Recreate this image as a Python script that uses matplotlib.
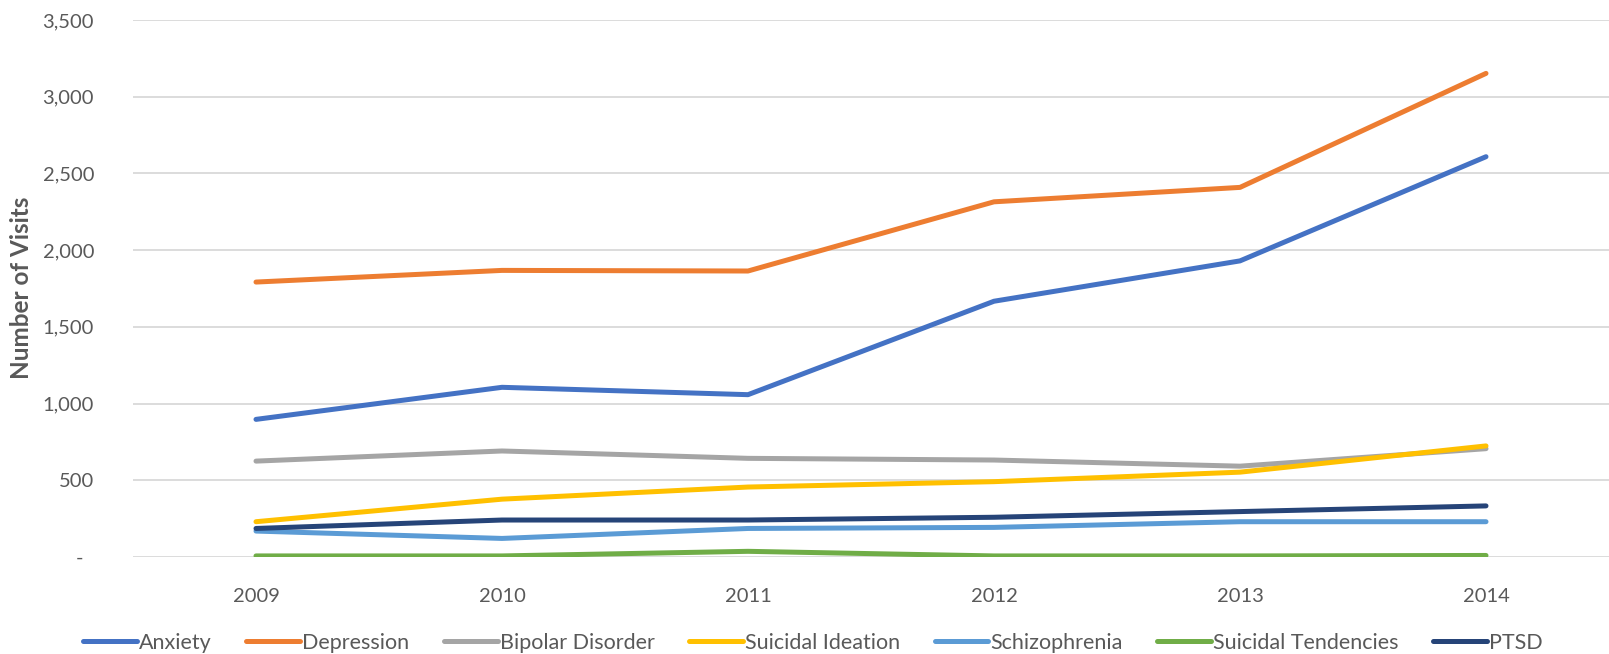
import matplotlib
matplotlib.use('Agg')
import matplotlib.pyplot as plt
from matplotlib.ticker import FuncFormatter

years = ['2009', '2010', '2011', '2012', '2013', '2014']
anxiety = [897, 1106, 1058, 1667, 1930, 2609]
depression = [1792, 1868, 1864, 2315, 2409, 3152]
bipolar = [625, 691, 643, 632, 592, 706]
suicidal_ideation = [230, 377, 456, 491, 553, 724]
schizophrenia = [169, 121, 186, 193, 230, 230]
suicidal_tendencies = [7, 7, 37, 7, 7, 10]
ptsd = [186, 241, 241, 259, 296, 333]

series = [
    ('Anxiety', anxiety, '#4472C4'),
    ('Depression', depression, '#ED7D31'),
    ('Bipolar Disorder', bipolar, '#A5A5A5'),
    ('Suicidal Ideation', suicidal_ideation, '#FFC000'),
    ('Schizophrenia', schizophrenia, '#5B9BD5'),
    ('Suicidal Tendencies', suicidal_tendencies, '#70AD47'),
    ('PTSD', ptsd, '#264478'),
]

plt.rcParams['font.family'] = ['Lato', 'DejaVu Sans']
txt = '#595959'

fig = plt.figure(figsize=(16.09, 6.54), dpi=100)
ax = fig.add_axes([133 / 1609, 1 - 557 / 654, 1 - 133 / 1609, (557 - 20) / 654])

x = list(range(len(years)))
for name, vals, col in series:
    ax.plot(x, vals, color=col, lw=3.6, solid_capstyle='round',
            solid_joinstyle='round', label=name)

ax.set_xlim(-0.5, 5.5)
ax.set_ylim(0, 3500)
ax.set_yticks(range(0, 3501, 500))
ax.set_xticks(x)
ax.set_xticklabels(years)


def fmt(v, pos):
    if v == 0:
        return '-'
    return '{:,.0f}'.format(v)


ax.yaxis.set_major_formatter(FuncFormatter(fmt))
ax.grid(axis='y', color='#D9D9D9', lw=1.3)
ax.set_axisbelow(True)
for s in ax.spines.values():
    s.set_visible(False)
ax.tick_params(axis='both', length=0, labelsize=14.5, colors=txt)
ax.tick_params(axis='y', pad=28)
ax.tick_params(axis='x', pad=22)

# excel accounting format puts the dash a little left of the digits
fig.canvas.draw()
zero_lab = ax.get_yticklabels()[0]
zero_lab.set_x(-11 / (1609 - 133))

fig.text(22 / 1609, 1 - 288 / 654, 'Number of Visits', rotation=90,
         ha='center', va='center', fontsize=17.5, fontweight='bold', color=txt)

ax.legend(loc='center', bbox_to_anchor=(813 / 1609, 1 - 643 / 654),
          bbox_transform=fig.transFigure, ncol=7, frameon=False,
          fontsize=15.5, handlelength=2.5, handletextpad=0.1,
          columnspacing=1.6, labelcolor=txt)

fig.savefig('out.png', dpi=100)
